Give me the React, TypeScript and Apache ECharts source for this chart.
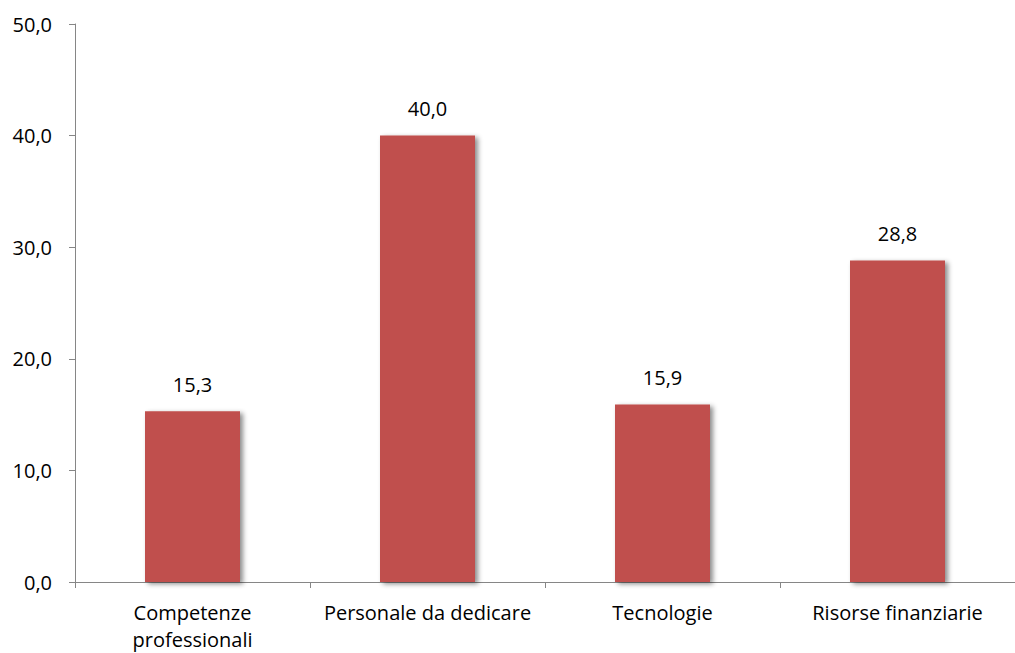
import React, { useEffect, useRef } from "react";
import * as echarts from "echarts";

const categories = ["Competenze\nprofessionali", "Personale da dedicare", "Tecnologie", "Risorse finanziarie"];
const values = [15.3, 40.0, 15.9, 28.8];
const yTicks = { min: 0, max: 50, interval: 10 };

const fmt = (v: number) => v.toFixed(1).replace(".", ",");

export default function App() {
  const ref = useRef<HTMLDivElement>(null);
  useEffect(() => {
    const chart = echarts.init(ref.current!, null, { renderer: "svg" });
    chart.setOption({
      animation: false,
      backgroundColor: "#ffffff",
      textStyle: { fontFamily: "Open Sans" },
      grid: { left: 75, width: 950, top: 24, bottom: 70, containLabel: false },
      xAxis: {
        type: "category",
        data: categories,
        axisLine: { lineStyle: { color: "#868686", width: 1 } },
        axisTick: { show: true, length: 6, lineStyle: { color: "#868686" } },
        axisLabel: { color: "#000", fontSize: 20, lineHeight: 27, margin: 17, interval: 0 },
      },
      yAxis: {
        type: "value",
        min: yTicks.min,
        max: yTicks.max,
        interval: yTicks.interval,
        axisLine: { show: true, lineStyle: { color: "#868686", width: 1 } },
        axisTick: { show: true, length: 6, lineStyle: { color: "#868686" } },
        splitLine: { show: false },
        axisLabel: { color: "#000", fontSize: 20, margin: 23, formatter: (v: number) => fmt(v) },
      },
      series: [
        {
          type: "bar",
          data: values,
          barWidth: 95,
          itemStyle: {
            color: "#C0504D",
            shadowColor: "rgba(0,0,0,0.45)",
            shadowBlur: 5,
            shadowOffsetX: 3,
            shadowOffsetY: 2,
          },
          label: {
            show: true,
            position: "top",
            distance: 17,
            color: "#000",
            fontSize: 20,
            formatter: (p: any) => fmt(p.value),
          },
        },
      ],
    });
    return () => chart.dispose();
  }, []);
  return <div ref={ref} style={{ position: "fixed", left: 0, top: 0, width: 1015, height: 653 }} />;
}
